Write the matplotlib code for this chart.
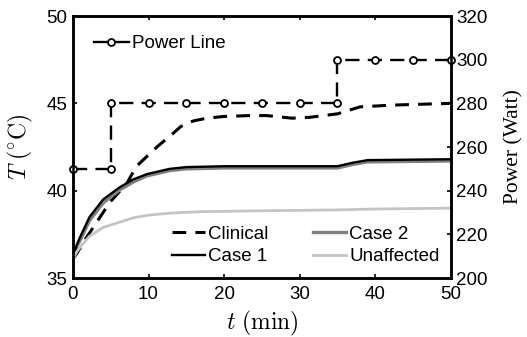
import matplotlib
matplotlib.use("Agg")
import matplotlib.pyplot as plt

plt.rcParams['font.family'] = ['Liberation Sans', 'DejaVu Sans']
plt.rcParams['mathtext.fontset'] = 'cm'

# Power line (markers at every vertex)
t_power = [0, 5, 5, 10, 15, 20, 25, 30, 35, 35, 40, 45, 50]
p_power = [250, 250, 280, 280, 280, 280, 280, 280, 280, 300, 300, 300, 300]

# Temperature curves
t_clin = [0, 0.5, 1.6, 3.6, 4.9, 7.1, 8.4, 11.1, 13.3, 14.2, 15, 16, 17.7, 20, 23.4, 25.6, 29, 31.3, 35, 38, 42.3, 50]
T_clin = [36.1, 36.4, 37.2, 38.5, 39.35, 40.4, 41.4, 42.5, 43.3, 43.65, 43.85, 44.0, 44.15, 44.25, 44.3, 44.3, 44.15, 44.2, 44.4, 44.8, 44.9, 45.0]

t_c = [0, 0.5, 1, 2.2, 4, 6.2, 8, 9.8, 12.8, 15, 20, 35, 37, 39, 50]
T_case1 = [36.1, 36.9, 37.4, 38.5, 39.5, 40.2, 40.65, 40.95, 41.25, 41.35, 41.4, 41.4, 41.6, 41.75, 41.8]
T_case2 = [36.1, 36.8, 37.2, 38.3, 39.3, 40.05, 40.5, 40.85, 41.15, 41.25, 41.3, 41.3, 41.5, 41.65, 41.7]

t_u = [0, 0.5, 1, 2.2, 4, 6.2, 8, 10, 13, 17, 25, 35, 40, 50]
T_unaff = [36.1, 36.5, 36.8, 37.4, 37.9, 38.2, 38.45, 38.6, 38.72, 38.8, 38.85, 38.9, 38.95, 39.0]

fig = plt.figure(figsize=(5.27, 3.37), dpi=100)
ax = fig.add_axes([0.1385, 0.175, 0.717, 0.7775])
ax2 = ax.twinx()

lc, = ax.plot(t_clin, T_clin, color='black', lw=2.2, ls=(0, (4.5, 3)), label='Clinical')
l2, = ax.plot(t_c, T_case2, color='#808080', lw=2.4, label='Case 2')
l1, = ax.plot(t_c, T_case1, color='black', lw=1.7, label='Case 1')
lu, = ax.plot(t_u, T_unaff, color='#c4c4c4', lw=2, label='Unaffected')

ax2.plot(t_power, p_power, color='black', lw=1.7, ls=(0, (6, 3.5)),
         marker='o', ms=5, mfc='white', mec='black', mew=1.3, clip_on=False)
ph, = ax2.plot([], [], color='black', lw=1.7, ls='-', marker='o', ms=5, mfc='white',
               mec='black', mew=1.3, label='Power Line')

ax.set_xlim(0, 50)
ax.set_ylim(35, 50)
ax2.set_ylim(200, 320)
ax.set_xticks([0, 10, 20, 30, 40, 50])
ax.set_yticks([35, 40, 45, 50])
ax2.set_yticks([200, 220, 240, 260, 280, 300, 320])

ax.tick_params(axis='x', direction='in', top=True, labelsize=13.5, length=3, width=1.2, pad=6)
ax.tick_params(axis='y', direction='in', right=False, labelsize=13.5, length=3, width=1.2, pad=4)
ax2.tick_params(axis='y', direction='in', labelsize=13.5, length=3, width=1.2, pad=4)
for a in (ax, ax2):
    for s in a.spines.values():
        s.set_linewidth(1.8)

ax.set_xlabel(r'$t\ \mathrm{(min)}$', fontsize=17, labelpad=4)
ax.set_ylabel(r'$T\ (^{\circ}\mathrm{C})$', fontsize=17, labelpad=8)
ax2.set_ylabel('Power (Watt)', fontsize=15.5, family=['Liberation Serif', 'DejaVu Serif'], labelpad=12)

leg1 = ax2.legend(handles=[ph], loc='upper left', frameon=False, fontsize=13.5,
                  handlelength=1.9, handletextpad=0.15, borderaxespad=0.3, bbox_to_anchor=(0.02, 0.977))
leg2 = ax.legend(handles=[lc, l1, l2, lu], loc='lower right', ncol=2, frameon=False, fontsize=13.5,
                 handlelength=1.8, handletextpad=0.15, columnspacing=2.35, labelspacing=0.3,
                 borderaxespad=0.2, bbox_to_anchor=(1.0, 0.005))

fig.savefig('out.png', dpi=100)
